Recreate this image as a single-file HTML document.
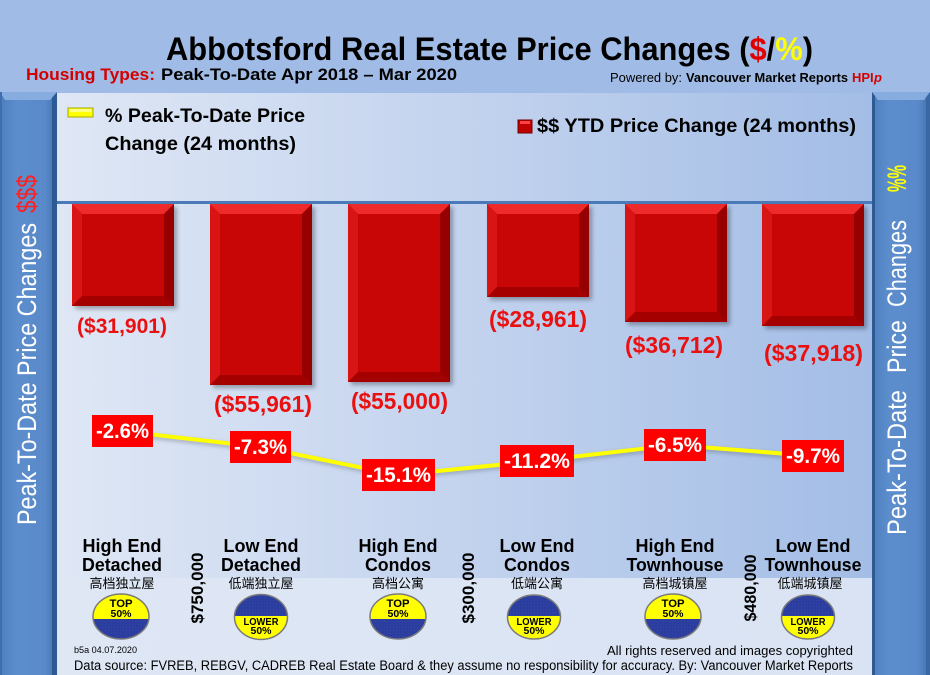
<!DOCTYPE html>
<html><head><meta charset="utf-8"><style>
html,body{margin:0;padding:0;background:#a0bce6;}
svg{display:block;}
text{font-family:"Liberation Sans","Noto Sans CJK SC",sans-serif;}
.cjk{font-family:"Liberation Sans","Noto Sans CJK SC",sans-serif;}
</style></head><body>
<svg width="930" height="675" viewBox="0 0 930 675" xmlns="http://www.w3.org/2000/svg">
<defs>
<linearGradient id="plot" x1="0" y1="0" x2="1" y2="0">
<stop offset="0" stop-color="#dfe7f5"/><stop offset="0.5" stop-color="#c3d3ee"/><stop offset="1" stop-color="#a3bde6"/>
</linearGradient>
<linearGradient id="foot" x1="0" y1="0" x2="1" y2="0">
<stop offset="0" stop-color="#dfe7f5"/><stop offset="1" stop-color="#d9e3f3"/>
</linearGradient>
<linearGradient id="panel" x1="0" y1="0" x2="1" y2="0">
<stop offset="0" stop-color="#4d7fbf"/><stop offset="0.3" stop-color="#5c8dcc"/><stop offset="0.8" stop-color="#5989c9"/><stop offset="1" stop-color="#3f6eab"/>
</linearGradient>
<filter id="sh" x="-10%" y="-10%" width="130%" height="130%"><feGaussianBlur stdDeviation="2"/></filter>
<pattern id="hatch" width="3" height="3" patternUnits="userSpaceOnUse"><rect width="3" height="3" fill="#2b3d9e"/><rect width="1" height="1" fill="#3548a8"/></pattern>
</defs>

<rect x="0" y="0" width="930" height="675" fill="#a0bce6"/>
<rect x="57" y="93" width="815" height="485" fill="url(#plot)"/>
<rect x="57" y="578" width="815" height="97" fill="url(#foot)"/>

<!-- left panel -->
<rect x="0" y="92" width="57" height="583" fill="url(#panel)"/>
<rect x="52" y="92" width="5" height="583" fill="#2d5a93"/>
<polygon points="0,92 57,92 50,100 5,100" fill="#86ace0"/>
<rect x="0" y="92" width="2" height="583" fill="#3f6fae"/>
<text transform="translate(36,525) rotate(-90)" font-size="27" fill="#ffffff" textLength="302" lengthAdjust="spacingAndGlyphs">Peak-To-Date Price Changes</text>
<text transform="translate(36,213) rotate(-90)" font-size="27" fill="#ff1f1f" textLength="38" lengthAdjust="spacingAndGlyphs">$$$</text>

<!-- right panel -->
<rect x="872" y="92" width="58" height="583" fill="url(#panel)"/>
<rect x="872" y="92" width="3" height="583" fill="#2d5a93"/>
<rect x="926" y="92" width="4" height="583" fill="#3a68a5"/>
<polygon points="872,92 930,92 924,100 878,100" fill="#86ace0"/>
<text transform="translate(906,535) rotate(-90)" font-size="27" fill="#ffffff" textLength="145" lengthAdjust="spacingAndGlyphs">Peak-To-Date</text>
<text transform="translate(906,373) rotate(-90)" font-size="27" fill="#ffffff" textLength="53" lengthAdjust="spacingAndGlyphs">Price</text>
<text transform="translate(906,307) rotate(-90)" font-size="27" fill="#ffffff" textLength="87" lengthAdjust="spacingAndGlyphs">Changes</text>
<text transform="translate(906,192) rotate(-90)" font-size="27" font-weight="bold" fill="#ffff00" textLength="27" lengthAdjust="spacingAndGlyphs">%%</text>

<!-- title -->
<text x="166" y="60" font-size="32" font-weight="bold" fill="#000" textLength="647" lengthAdjust="spacingAndGlyphs">Abbotsford Real Estate Price Changes (<tspan fill="#e00000">$</tspan>/<tspan fill="#ffff00">%</tspan>)</text>
<text x="26" y="80" font-size="17" font-weight="bold" fill="#d40000" textLength="129" lengthAdjust="spacingAndGlyphs">Housing Types:</text>
<text x="161" y="80" font-size="17" font-weight="bold" fill="#000" textLength="296" lengthAdjust="spacingAndGlyphs">Peak-To-Date Apr 2018 – Mar 2020</text>
<text x="610" y="82" font-size="13" fill="#000" textLength="72" lengthAdjust="spacingAndGlyphs">Powered by:</text>
<text x="686" y="82" font-size="13" font-weight="bold" fill="#000" textLength="162" lengthAdjust="spacingAndGlyphs">Vancouver Market Reports</text>
<text x="852" y="82" font-size="13" font-weight="bold" fill="#d40000">HPI</text>
<text x="874" y="82" font-size="13" font-weight="bold" font-style="italic" fill="#d40000">p</text>

<!-- legends -->
<rect x="68" y="108" width="25" height="9" fill="#ffff00" stroke="#a8a800" stroke-width="1"/>
<rect x="70" y="109" width="21" height="3" fill="#ffff80"/>
<text x="105" y="122" font-size="19" font-weight="bold" fill="#000" textLength="200" lengthAdjust="spacingAndGlyphs">% Peak-To-Date Price</text>
<text x="105" y="150" font-size="19" font-weight="bold" fill="#000" textLength="191" lengthAdjust="spacingAndGlyphs">Change (24 months)</text>
<rect x="518" y="120" width="14" height="13" fill="#c00000" stroke="#700000" stroke-width="1"/>
<rect x="520" y="121" width="10" height="3" fill="#ff4040"/>
<text x="537" y="132" font-size="19" font-weight="bold" fill="#000" textLength="319" lengthAdjust="spacingAndGlyphs">$$ YTD Price Change (24 months)</text>

<!-- axis line -->
<rect x="57" y="201" width="815" height="3" fill="#4a7ab8"/>

<!-- bars -->
<g>
<rect x="75" y="207" width="102" height="102" fill="#000" opacity="0.3" filter="url(#sh)"/>
<rect x="72" y="204" width="102" height="102" fill="#c80606"/>
<polygon points="72,204 174,204 164,214 82,214" fill="#ef2a2a"/>
<polygon points="72,204 82,214 82,296 72,306" fill="#d81414"/>
<polygon points="174,204 174,306 164,296 164,214" fill="#960000"/>
<polygon points="72,306 174,306 164,296 82,296" fill="#a50000"/>

<rect x="213" y="207" width="102" height="181" fill="#000" opacity="0.3" filter="url(#sh)"/>
<rect x="210" y="204" width="102" height="181" fill="#c80606"/>
<polygon points="210,204 312,204 302,214 220,214" fill="#ef2a2a"/>
<polygon points="210,204 220,214 220,375 210,385" fill="#d81414"/>
<polygon points="312,204 312,385 302,375 302,214" fill="#960000"/>
<polygon points="210,385 312,385 302,375 220,375" fill="#a50000"/>

<rect x="351" y="207" width="102" height="178" fill="#000" opacity="0.3" filter="url(#sh)"/>
<rect x="348" y="204" width="102" height="178" fill="#c80606"/>
<polygon points="348,204 450,204 440,214 358,214" fill="#ef2a2a"/>
<polygon points="348,204 358,214 358,372 348,382" fill="#d81414"/>
<polygon points="450,204 450,382 440,372 440,214" fill="#960000"/>
<polygon points="348,382 450,382 440,372 358,372" fill="#a50000"/>

<rect x="490" y="207" width="102" height="93" fill="#000" opacity="0.3" filter="url(#sh)"/>
<rect x="487" y="204" width="102" height="93" fill="#c80606"/>
<polygon points="487,204 589,204 579,214 497,214" fill="#ef2a2a"/>
<polygon points="487,204 497,214 497,287 487,297" fill="#d81414"/>
<polygon points="589,204 589,297 579,287 579,214" fill="#960000"/>
<polygon points="487,297 589,297 579,287 497,287" fill="#a50000"/>

<rect x="628" y="207" width="102" height="118" fill="#000" opacity="0.3" filter="url(#sh)"/>
<rect x="625" y="204" width="102" height="118" fill="#c80606"/>
<polygon points="625,204 727,204 717,214 635,214" fill="#ef2a2a"/>
<polygon points="625,204 635,214 635,312 625,322" fill="#d81414"/>
<polygon points="727,204 727,322 717,312 717,214" fill="#960000"/>
<polygon points="625,322 727,322 717,312 635,312" fill="#a50000"/>

<rect x="765" y="207" width="102" height="122" fill="#000" opacity="0.3" filter="url(#sh)"/>
<rect x="762" y="204" width="102" height="122" fill="#c80606"/>
<polygon points="762,204 864,204 854,214 772,214" fill="#ef2a2a"/>
<polygon points="762,204 772,214 772,316 762,326" fill="#d81414"/>
<polygon points="864,204 864,326 854,316 854,214" fill="#960000"/>
<polygon points="762,326 864,326 854,316 772,316" fill="#a50000"/>
</g>

<!-- bar labels -->
<g font-weight="bold" fill="#ea1010">
<text x="77" y="333" font-size="21" textLength="90" lengthAdjust="spacingAndGlyphs">($31,901)</text>
<text x="214" y="412" font-size="23" textLength="98" lengthAdjust="spacingAndGlyphs">($55,961)</text>
<text x="351" y="409" font-size="23" textLength="97" lengthAdjust="spacingAndGlyphs">($55,000)</text>
<text x="489" y="327" font-size="23" textLength="98" lengthAdjust="spacingAndGlyphs">($28,961)</text>
<text x="625" y="353" font-size="23" textLength="98" lengthAdjust="spacingAndGlyphs">($36,712)</text>
<text x="764" y="361" font-size="23" textLength="99" lengthAdjust="spacingAndGlyphs">($37,918)</text>
</g>

<!-- yellow line -->
<polyline points="122,433 260,449 398,477 537,463 675,447 813,458" fill="none" stroke="#000" stroke-opacity="0.25" stroke-width="4" filter="url(#sh)"/>
<polyline points="122,431 260,447 398,475 537,461 675,445 813,456" fill="none" stroke="#ffff00" stroke-width="4" stroke-linejoin="round"/>

<!-- percent labels -->
<g font-weight="bold" fill="#ffffff" font-size="21">
<rect x="92" y="415" width="61" height="32" fill="#ff0000"/>
<text x="96" y="438" textLength="53" lengthAdjust="spacingAndGlyphs">-2.6%</text>
<rect x="230" y="431" width="61" height="32" fill="#ff0000"/>
<text x="234" y="454" textLength="53" lengthAdjust="spacingAndGlyphs">-7.3%</text>
<rect x="362" y="459" width="73" height="32" fill="#ff0000"/>
<text x="366" y="482" textLength="65" lengthAdjust="spacingAndGlyphs">-15.1%</text>
<rect x="500" y="445" width="74" height="32" fill="#ff0000"/>
<text x="504" y="468" textLength="66" lengthAdjust="spacingAndGlyphs">-11.2%</text>
<rect x="644" y="429" width="62" height="32" fill="#ff0000"/>
<text x="648" y="452" textLength="54" lengthAdjust="spacingAndGlyphs">-6.5%</text>
<rect x="782" y="440" width="62" height="32" fill="#ff0000"/>
<text x="786" y="463" textLength="54" lengthAdjust="spacingAndGlyphs">-9.7%</text>
</g>

<!-- category labels -->
<g font-weight="bold" fill="#000" font-size="18" text-anchor="middle">
<text x="122" y="552" textLength="79" lengthAdjust="spacingAndGlyphs">High End</text>
<text x="122" y="571" textLength="80" lengthAdjust="spacingAndGlyphs">Detached</text>
<text x="261" y="552" textLength="75" lengthAdjust="spacingAndGlyphs">Low End</text>
<text x="261" y="571" textLength="80" lengthAdjust="spacingAndGlyphs">Detached</text>
<text x="398" y="552" textLength="79" lengthAdjust="spacingAndGlyphs">High End</text>
<text x="398" y="571" textLength="66" lengthAdjust="spacingAndGlyphs">Condos</text>
<text x="537" y="552" textLength="75" lengthAdjust="spacingAndGlyphs">Low End</text>
<text x="537" y="571" textLength="66" lengthAdjust="spacingAndGlyphs">Condos</text>
<text x="675" y="552" textLength="79" lengthAdjust="spacingAndGlyphs">High End</text>
<text x="675" y="571" textLength="97" lengthAdjust="spacingAndGlyphs">Townhouse</text>
<text x="813" y="552" textLength="75" lengthAdjust="spacingAndGlyphs">Low End</text>
<text x="813" y="571" textLength="97" lengthAdjust="spacingAndGlyphs">Townhouse</text>
</g>
<g class="cjk" fill="#000" font-size="13" text-anchor="middle">
<text x="122" y="588">高档独立屋</text>
<text x="261" y="588">低端独立屋</text>
<text x="398" y="588">高档公寓</text>
<text x="537" y="588">低端公寓</text>
<text x="675" y="588">高档城镇屋</text>
<text x="810" y="588">低端城镇屋</text>
</g>

<!-- rotated price thresholds -->
<g font-weight="bold" fill="#000" font-size="17" text-anchor="middle">
<text transform="translate(203,588) rotate(-90)" textLength="71" lengthAdjust="spacingAndGlyphs">$750,000</text>
<text transform="translate(474,588) rotate(-90)" textLength="71" lengthAdjust="spacingAndGlyphs">$300,000</text>
<text transform="translate(756,588) rotate(-90)" textLength="67" lengthAdjust="spacingAndGlyphs">$480,000</text>
</g>

<!-- badges -->
<defs>
<clipPath id="e1"><ellipse cx="121" cy="616.5" rx="28" ry="22.5"/></clipPath>
<clipPath id="e2"><ellipse cx="261" cy="617" rx="26.5" ry="22.5"/></clipPath>
<clipPath id="e3"><ellipse cx="398" cy="616.5" rx="28" ry="22.5"/></clipPath>
<clipPath id="e4"><ellipse cx="534" cy="617" rx="26.5" ry="22"/></clipPath>
<clipPath id="e5"><ellipse cx="673" cy="616.5" rx="28" ry="22.5"/></clipPath>
<clipPath id="e6"><ellipse cx="808" cy="617" rx="26.5" ry="22"/></clipPath>
</defs>
<g font-weight="bold" fill="#000" text-anchor="middle">
<g clip-path="url(#e1)"><rect x="90" y="590" width="62" height="29" fill="#ffff00"/><rect x="90" y="619" width="62" height="25" fill="url(#hatch)"/></g>
<ellipse cx="121" cy="616.5" rx="28" ry="22.5" fill="none" stroke="#7a7a7a" stroke-width="1.5"/>
<text x="121" y="607" font-size="11" textLength="23" lengthAdjust="spacingAndGlyphs">TOP</text>
<text x="121" y="617" font-size="10" textLength="21" lengthAdjust="spacingAndGlyphs">50%</text>

<g clip-path="url(#e2)"><rect x="230" y="590" width="62" height="26" fill="url(#hatch)"/><rect x="230" y="616" width="62" height="28" fill="#ffff00"/></g>
<ellipse cx="261" cy="617" rx="26.5" ry="22.5" fill="none" stroke="#7a7a7a" stroke-width="1.5"/>
<text x="261" y="625" font-size="10" textLength="35" lengthAdjust="spacingAndGlyphs">LOWER</text>
<text x="261" y="634" font-size="10" textLength="21" lengthAdjust="spacingAndGlyphs">50%</text>

<g clip-path="url(#e3)"><rect x="367" y="590" width="62" height="29" fill="#ffff00"/><rect x="367" y="619" width="62" height="25" fill="url(#hatch)"/></g>
<ellipse cx="398" cy="616.5" rx="28" ry="22.5" fill="none" stroke="#7a7a7a" stroke-width="1.5"/>
<text x="398" y="607" font-size="11" textLength="23" lengthAdjust="spacingAndGlyphs">TOP</text>
<text x="398" y="617" font-size="10" textLength="21" lengthAdjust="spacingAndGlyphs">50%</text>

<g clip-path="url(#e4)"><rect x="503" y="590" width="62" height="26" fill="url(#hatch)"/><rect x="503" y="616" width="62" height="28" fill="#ffff00"/></g>
<ellipse cx="534" cy="617" rx="26.5" ry="22" fill="none" stroke="#7a7a7a" stroke-width="1.5"/>
<text x="534" y="625" font-size="10" textLength="35" lengthAdjust="spacingAndGlyphs">LOWER</text>
<text x="534" y="634" font-size="10" textLength="21" lengthAdjust="spacingAndGlyphs">50%</text>

<g clip-path="url(#e5)"><rect x="642" y="590" width="62" height="29" fill="#ffff00"/><rect x="642" y="619" width="62" height="25" fill="url(#hatch)"/></g>
<ellipse cx="673" cy="616.5" rx="28" ry="22.5" fill="none" stroke="#7a7a7a" stroke-width="1.5"/>
<text x="673" y="607" font-size="11" textLength="23" lengthAdjust="spacingAndGlyphs">TOP</text>
<text x="673" y="617" font-size="10" textLength="21" lengthAdjust="spacingAndGlyphs">50%</text>

<g clip-path="url(#e6)"><rect x="777" y="590" width="62" height="26" fill="url(#hatch)"/><rect x="777" y="616" width="62" height="28" fill="#ffff00"/></g>
<ellipse cx="808" cy="617" rx="26.5" ry="22" fill="none" stroke="#7a7a7a" stroke-width="1.5"/>
<text x="808" y="625" font-size="10" textLength="35" lengthAdjust="spacingAndGlyphs">LOWER</text>
<text x="808" y="634" font-size="10" textLength="21" lengthAdjust="spacingAndGlyphs">50%</text>
</g>

<!-- footer -->
<text x="74" y="653" font-size="9" fill="#000" textLength="63" lengthAdjust="spacingAndGlyphs">b5a 04.07.2020</text>
<text x="607" y="655" font-size="13" fill="#000" textLength="246" lengthAdjust="spacingAndGlyphs">All rights reserved and  images copyrighted</text>
<text x="74" y="670" font-size="13.5" fill="#000" textLength="779" lengthAdjust="spacingAndGlyphs">Data source: FVREB, REBGV, CADREB Real Estate Board &amp; they assume no responsibility for accuracy. By: Vancouver Market Reports</text>
</svg>
</body></html>
